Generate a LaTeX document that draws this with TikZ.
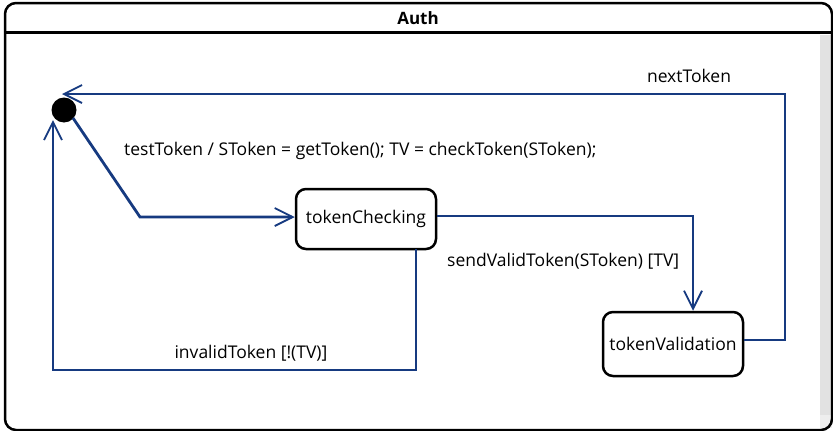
\documentclass[tikz,border=0pt]{standalone}
\usepackage{fontspec}
\setmainfont{Open Sans}
\usetikzlibrary{arrows.meta}
\definecolor{flow}{RGB}{22,58,128}
\definecolor{scrollgrey}{RGB}{226,226,226}
\tikzset{
  state/.style={draw=black, line width=2.5pt, rounded corners=10pt, fill=white,
    font=\fontsize{17.5}{20}\selectfont, inner sep=0pt},
  trans/.style={draw=flow, line width=2.8pt, line join=miter,
    -{Straight Barb[length=18pt, width=18pt, line width=1.8pt]}},
  lbl/.style={font=\fontsize{17.5}{20}\selectfont, text=black, inner sep=0pt},
}
\begin{document}
\begin{tikzpicture}[x=1pt, y=-1pt]
  \useasboundingbox (0,0) rectangle (833,431);
  % region frame with title compartment
  \fill[scrollgrey] (820,35) rectangle (832,415);
  \fill[scrollgrey!60] (820,415) rectangle (832,428);
  \draw[line width=2.5pt, rounded corners=11pt] (5,430) -- (5,3) -- (832,3) -- (832,430) -- cycle;
  \draw[line width=2.6pt] (5,32.5) -- (832,32.5);
  \node[font=\fontsize{17}{20}\selectfont\bfseries] (title) at (418,18) {Auth};

  % states
  \fill (64,110) circle (12.5);
  \coordinate (init) at (64,110);
  \node[state, minimum width=140pt, minimum height=60pt] (check) at (366,219) {tokenChecking};
  \node[state, minimum width=140pt, minimum height=64pt] (valid) at (673,344) {tokenValidation};

  % transitions
  \coordinate (bendA) at (140,217);
  \draw[trans] (init) ++(9,8) -- (bendA) -- (check.west |- bendA);
  \draw[trans] (check.east |- 0,216) -- (693,216) -- (valid.north -| 693,0);
  \draw[trans] (valid.east |- 0,340) -- (785,340) -- (785,94) -- (62,94);
  \draw[trans] (416,249) -- (416,370) -- (53,370) -- (53,120);

  % transition labels
  \node[lbl, anchor=west] (l1) at (124,151) {testToken / SToken = getToken(); TV = checkToken(SToken);};
  \node[lbl] (l2) at (689,76) {nextToken};
  \node[lbl, anchor=west] (l3) at (447,261) {sendValidToken(SToken) [TV]};
  \node[lbl] (l4) at (251,353) {invalidToken [!(TV)]};
\end{tikzpicture}
\end{document}
